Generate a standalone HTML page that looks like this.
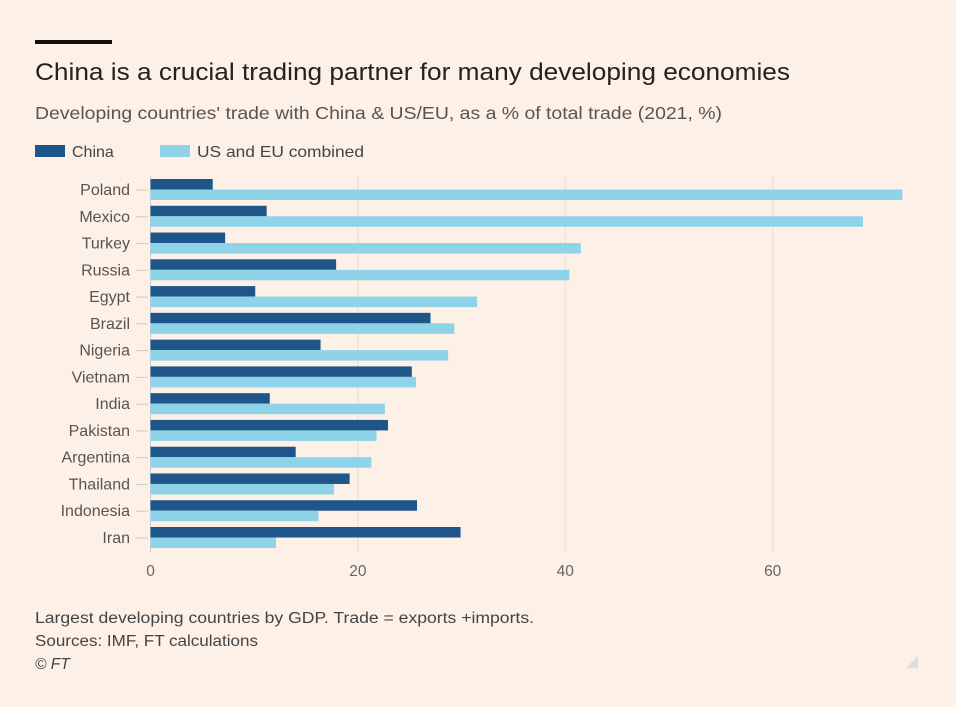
<!DOCTYPE html>
<html><head><meta charset="utf-8"><style>
body{margin:0;background:#fdf0e6;font-family:"Liberation Sans",sans-serif;}
svg text{font-family:"Liberation Sans",sans-serif;}
</style></head><body>
<svg id="c" width="956" height="702" xmlns="http://www.w3.org/2000/svg">
<rect width="956" height="702" fill="#fdf0e6"/>
<rect x="35" y="40" width="77" height="4" fill="#111"/>
<text x="35" y="80" font-size="24" fill="#222" textLength="755" lengthAdjust="spacingAndGlyphs">China is a crucial trading partner for many developing economies</text>
<text x="35" y="119" font-size="17.5" fill="#555" textLength="687" lengthAdjust="spacingAndGlyphs">Developing countries' trade with China &amp; US/EU, as a % of total trade (2021, %)</text>
<g>
<rect x="35" y="145" width="30" height="12" fill="#1e5689"/>
<text x="72" y="157" font-size="16" fill="#444">China</text>
<rect x="160" y="145" width="30" height="12" fill="#8fd3e8"/>
<text x="197" y="157" font-size="16" fill="#444" textLength="167" lengthAdjust="spacingAndGlyphs">US and EU combined</text>
</g>
<g id="plot"></g>
<text x="35" y="623" font-size="15.5" fill="#444" textLength="499" lengthAdjust="spacingAndGlyphs">Largest developing countries by GDP. Trade = exports +imports.</text>
<text x="35" y="646" font-size="15.5" fill="#444" textLength="223" lengthAdjust="spacingAndGlyphs">Sources: IMF, FT calculations</text>
<text x="35" y="669" font-size="15.5" fill="#444" font-style="italic">© FT</text>
<path d="M906 668 L918 656 L918 668 Z" fill="#ddd"/>
</svg>
<script>
const categories=["Poland","Mexico","Turkey","Russia","Egypt","Brazil","Nigeria","Vietnam","India","Pakistan","Argentina","Thailand","Indonesia","Iran"];
const chinaValues=[6.0,11.2,7.2,17.9,10.1,27.0,16.4,25.2,11.5,22.9,14.0,19.2,25.7,29.9];
const usEuValues=[72.5,68.7,41.5,40.4,31.5,29.3,28.7,25.6,22.6,21.8,21.3,17.7,16.2,12.1];
const tickValues=[0,20,40,60];
const NS="http://www.w3.org/2000/svg";
const g=document.getElementById('plot');
const x=v=>150.5+v*10.37;
const y=i=>179+i*26.77;
function el(t,a){const e=document.createElementNS(NS,t);for(const k in a)e.setAttribute(k,a[k]);g.appendChild(e);return e;}
tickValues.forEach(t=>{
 const l=el('line',{x1:x(t),x2:x(t),y1:176,y2:552,stroke:t===0?'#ccc':'#e8ddd3','stroke-width':1});
 
 
 const tx=el('text',{x:x(t),y:576,'font-size':15.5,fill:'#666','text-anchor':'middle'});
 tx.textContent=t;
 
 
});
categories.forEach((c,i)=>{
 const tk=el('line',{x1:136,x2:148,y1:y(i)+11,y2:y(i)+11,stroke:'#ccc'});
 
 
 const lb=el('text',{x:130,y:y(i)+16,'font-size':16,fill:'#555','text-anchor':'end'});
 lb.textContent=c;
 
 
 const b1=el('rect',{x:x(0),y:y(i),width:x(chinaValues[i])-x(0),height:10.5,fill:'#1e5689'});
 
 
 const b2=el('rect',{x:x(0),y:y(i)+10.5,width:x(usEuValues[i])-x(0),height:10.5,fill:'#8fd3e8'});
 
 
});
</script>
</body></html>
